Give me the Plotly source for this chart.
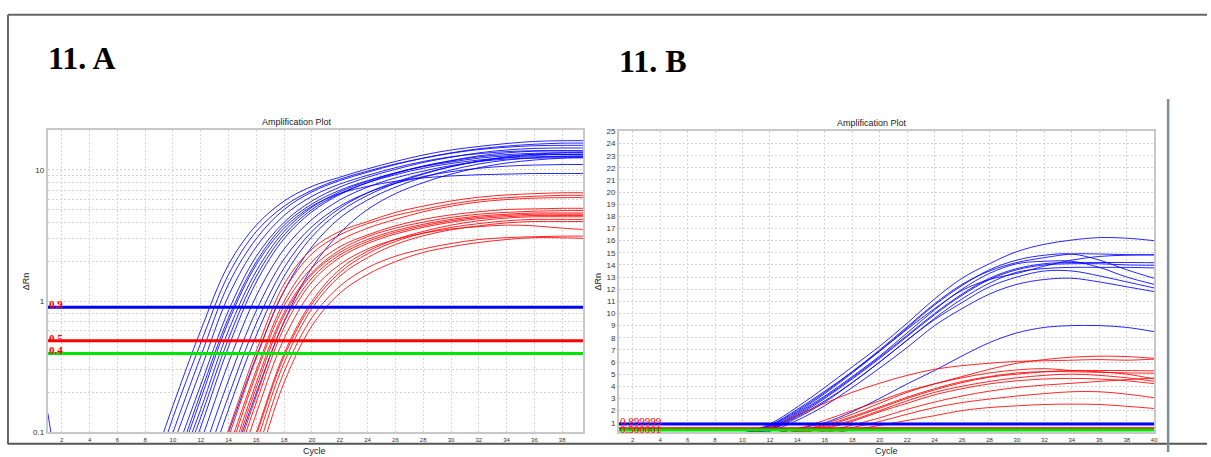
import math
import plotly.graph_objects as go

W, H = 1211, 457

# ---------------- Panel A (log scale) ----------------
CYCLES_A = [6, 8, 10, 12, 14, 16, 18, 20, 22, 24, 26, 28, 30, 32, 34, 36, 38, 40]

BLUE_A = [
    [0.012, 0.04, 0.16, 0.6, 1.9, 3.8, 5.8, 7.5, 8.8, 10.2, 11.6, 13.0, 14.2, 15.1, 15.9, 16.5, 16.7, 16.7],
    [0.009, 0.03, 0.13, 0.48, 1.6, 3.4, 5.3, 7.0, 8.5, 9.8, 11.1, 12.3, 13.4, 14.3, 14.9, 15.3, 15.4, 15.4],
    [0.007, 0.025, 0.1, 0.38, 1.35, 3.0, 5.0, 6.8, 8.3, 9.6, 11.0, 12.3, 13.5, 14.5, 15.2, 15.7, 16.0, 16.0],
    [0.006, 0.02, 0.08, 0.3, 1.1, 2.6, 4.5, 6.3, 7.8, 9.1, 10.4, 11.6, 12.6, 13.3, 13.8, 14.0, 14.0, 13.9],
    [0.0045, 0.015, 0.06, 0.23, 0.85, 2.2, 4.0, 5.8, 7.4, 8.8, 10.1, 11.4, 12.5, 13.5, 14.2, 14.6, 14.7, 14.7],
    [0.004, 0.013, 0.05, 0.2, 0.75, 2.0, 3.8, 5.5, 7.0, 8.3, 9.5, 10.6, 11.5, 12.3, 12.8, 13.1, 13.1, 13.0],
    [0.0035, 0.012, 0.045, 0.18, 0.7, 1.9, 3.6, 5.3, 6.6, 7.5, 8.2, 8.7, 9.0, 9.2, 9.3, 9.4, 9.4, 9.4],
    [0.003, 0.01, 0.04, 0.15, 0.6, 1.7, 3.4, 5.2, 6.8, 8.2, 9.5, 10.7, 11.7, 12.6, 13.1, 13.4, 13.5, 13.5],
    [0.0028, 0.009, 0.035, 0.13, 0.52, 1.55, 3.2, 5.0, 6.6, 8.0, 9.2, 10.3, 11.2, 11.9, 12.4, 12.6, 12.7, 12.7],
    [0.0025, 0.008, 0.03, 0.11, 0.45, 1.4, 3.0, 4.8, 6.5, 8.0, 9.4, 10.7, 11.8, 12.8, 13.5, 13.9, 14.0, 14.0],
    [0.002, 0.006, 0.023, 0.085, 0.34, 1.1, 2.5, 4.2, 5.9, 7.4, 8.7, 9.8, 10.8, 11.6, 12.1, 12.3, 12.4, 12.4],
    [0.0015, 0.0045, 0.017, 0.063, 0.25, 0.85, 2.1, 3.7, 5.3, 6.7, 7.9, 8.9, 9.7, 10.3, 10.7, 10.9, 11.0, 11.0],
    [0.001, 0.0035, 0.013, 0.048, 0.19, 0.68, 1.8, 3.4, 5.1, 6.7, 8.1, 9.4, 10.6, 11.6, 12.4, 12.9, 13.1, 13.1],
    [0.0008, 0.0027, 0.01, 0.037, 0.15, 0.55, 1.55, 3.1, 4.8, 6.4, 7.9, 9.3, 10.6, 11.7, 12.6, 13.2, 13.5, 13.5],
    [0.0006, 0.002, 0.007, 0.026, 0.1, 0.38, 1.2, 2.6, 4.3, 5.9, 7.4, 8.8, 10.0, 11.1, 11.9, 12.4, 12.7, 12.7],
    [0.0002, 0.0008, 0.003, 0.0125, 0.05, 0.2, 0.7, 1.8, 3.3, 5.0, 6.6, 8.0, 9.3, 10.4, 11.3, 11.9, 12.3, 12.4],
]

RED_A = [
    [0.0004, 0.0016, 0.0065, 0.027, 0.105, 0.42, 1.35, 2.5, 3.4, 4.05, 4.75, 5.3, 5.8, 6.2, 6.45, 6.6, 6.7, 6.7],
    [0.00035, 0.0014, 0.0055, 0.023, 0.092, 0.37, 1.2, 2.3, 3.2, 3.9, 4.5, 5.0, 5.5, 5.9, 6.15, 6.3, 6.4, 6.4],
    [0.0003, 0.0011, 0.0045, 0.018, 0.075, 0.3, 1.0, 2.0, 2.9, 3.6, 4.2, 4.8, 5.3, 5.7, 5.95, 6.1, 6.15, 6.15],
    [0.00028, 0.001, 0.004, 0.016, 0.067, 0.28, 0.92, 1.8, 2.6, 3.2, 3.75, 4.2, 4.55, 4.8, 5.0, 5.05, 5.1, 5.1],
    [0.00025, 0.0009, 0.0035, 0.014, 0.058, 0.24, 0.82, 1.65, 2.45, 3.1, 3.6, 4.0, 4.35, 4.6, 4.75, 4.85, 4.9, 4.9],
    [0.00023, 0.0008, 0.0033, 0.013, 0.053, 0.22, 0.78, 1.6, 2.35, 2.95, 3.45, 3.85, 4.2, 4.45, 4.6, 4.7, 4.7, 4.7],
    [0.0002, 0.0007, 0.0028, 0.011, 0.045, 0.19, 0.7, 1.5, 2.25, 2.85, 3.35, 3.75, 4.1, 4.35, 4.5, 4.6, 4.6, 4.6],
    [0.00017, 0.0006, 0.0024, 0.0095, 0.04, 0.17, 0.63, 1.4, 2.15, 2.75, 3.25, 3.65, 4.0, 4.25, 4.4, 4.5, 4.5, 4.5],
    [0.00014, 0.0005, 0.002, 0.008, 0.032, 0.14, 0.52, 1.2, 1.9, 2.5, 2.95, 3.3, 3.55, 3.7, 3.8, 3.75, 3.6, 3.5],
    [0.0001, 0.0004, 0.0015, 0.006, 0.024, 0.1, 0.4, 1.0, 1.75, 2.4, 2.95, 3.4, 3.8, 4.1, 4.3, 4.4, 4.4, 4.4],
    [0.0001, 0.00037, 0.0014, 0.0055, 0.022, 0.095, 0.38, 0.95, 1.65, 2.3, 2.85, 3.3, 3.65, 3.9, 4.1, 4.2, 4.2, 4.2],
    [0.00009, 0.00032, 0.0012, 0.0048, 0.019, 0.083, 0.34, 0.88, 1.55, 2.15, 2.7, 3.15, 3.5, 3.75, 3.95, 4.05, 4.05, 4.05],
    [0.00007, 0.00026, 0.001, 0.004, 0.016, 0.068, 0.29, 0.75, 1.3, 1.8, 2.2, 2.5, 2.75, 2.95, 3.05, 3.1, 3.13, 3.13],
    [0.00006, 0.00021, 0.0008, 0.0032, 0.013, 0.055, 0.24, 0.65, 1.15, 1.6, 2.0, 2.35, 2.6, 2.8, 2.95, 3.05, 3.04, 3.0],
]

NOISE_A_CYC = [1, 2]
NOISE_A_VAL = [0.14, 0.03]

THRESH_A = [0.9, 0.5, 0.4]
THRESH_A_LABELS = ["0.9", "0.5", "0.4"]
X_TICKS_A = list(range(2, 40, 2))
Y_GRID_A = [0.1, 0.2, 0.3, 0.4, 0.5, 0.6, 0.7, 0.8, 0.9, 1, 2, 3, 4, 5, 6, 7, 8, 9, 10, 20]
Y_LABELS_A = {0.1: "0.1", 1: "1", 10: "10"}

# ---------------- Panel B (linear scale) ----------------
CYCLES_B = [2, 4, 6, 8, 10, 12, 14, 16, 18, 20, 22, 24, 26, 28, 30, 32, 34, 36, 38, 40]

BLUE_B = [
    [0, 0, 0, 0, 0.15, 0.9, 2.3, 3.9, 5.6, 7.3, 9.2, 11.2, 12.9, 14.1, 15.1, 15.7, 16.05, 16.25, 16.2, 16.0],
    [0, 0, 0, 0, 0.12, 0.8, 2.1, 3.6, 5.2, 6.9, 8.7, 10.4, 11.9, 12.8, 13.3, 13.9, 14.4, 14.7, 14.8, 14.83],
    [0, 0, 0, 0, 0.1, 0.75, 2.0, 3.5, 5.2, 7.0, 8.9, 10.8, 12.4, 13.5, 14.2, 14.6, 14.9, 14.9, 14.85, 14.83],
    [0, 0, 0, 0, 0.05, 0.55, 1.7, 3.1, 4.7, 6.4, 8.2, 10.0, 11.6, 12.9, 13.7, 14.1, 14.2, 14.2, 14.2, 14.18],
    [0, 0, 0, 0, 0.05, 0.5, 1.6, 3.0, 4.6, 6.3, 8.1, 9.9, 11.5, 12.8, 13.6, 14.0, 14.1, 14.1, 14.0, 13.97],
    [0, 0, 0, 0, 0.02, 0.4, 1.4, 2.7, 4.3, 6.0, 7.8, 9.6, 11.2, 12.5, 13.4, 13.7, 13.8, 13.8, 13.8, 13.75],
    [0, 0, 0, 0, 0.08, 0.7, 1.9, 3.4, 5.1, 6.9, 8.8, 10.7, 12.3, 13.6, 14.4, 14.8, 14.9, 14.4, 13.6, 12.9],
    [0, 0, 0, 0, 0.05, 0.6, 1.8, 3.2, 4.8, 6.5, 8.4, 10.3, 12.0, 13.3, 14.1, 14.3, 14.3, 13.8, 13.0, 12.4],
    [0, 0, 0, 0, 0.02, 0.45, 1.5, 2.8, 4.3, 6.0, 7.8, 9.5, 10.9, 12.2, 13.0, 13.5, 13.5, 13.1, 12.6, 12.1],
    [0, 0, 0, 0, 0, 0.3, 1.2, 2.4, 3.9, 5.5, 7.2, 9.0, 10.4, 11.6, 12.4, 12.8, 12.9, 12.6, 12.2, 11.8],
    [0, 0, 0, 0, 0, 0.1, 0.5, 1.0, 1.9, 3.0, 4.2, 5.3, 6.5, 7.6, 8.4, 8.85, 9.0, 9.0, 8.85, 8.5],
]

RED_B = [
    [0, 0, 0, 0, 0.05, 0.6, 1.6, 2.6, 3.5, 4.25, 4.9, 5.4, 5.7, 5.9, 6.05, 6.1, 6.15, 6.2, 6.15, 6.24],
    [0, 0, 0, 0, 0, 0.05, 0.3, 0.9, 1.7, 2.6, 3.5, 4.2, 4.8, 5.4, 5.9, 6.2, 6.4, 6.48, 6.45, 6.3],
    [0, 0, 0, 0, 0, 0.1, 0.5, 1.2, 2.0, 2.8, 3.6, 4.2, 4.7, 5.1, 5.35, 5.45, 5.3, 5.2, 5.0, 4.6],
    [0, 0, 0, 0, 0, 0.05, 0.3, 0.8, 1.5, 2.3, 3.1, 3.8, 4.4, 4.8, 5.1, 5.2, 5.2, 5.15, 5.1, 5.08],
    [0, 0, 0, 0, 0, 0.04, 0.25, 0.7, 1.4, 2.2, 3.0, 3.7, 4.3, 4.75, 5.0, 5.2, 5.3, 5.3, 5.3, 5.27],
    [0, 0, 0, 0, 0, 0.03, 0.2, 0.6, 1.2, 2.0, 2.8, 3.5, 4.0, 4.4, 4.7, 4.9, 5.0, 4.9, 4.7, 4.41],
    [0, 0, 0, 0, 0, 0.02, 0.15, 0.5, 1.1, 1.9, 2.6, 3.3, 3.8, 4.2, 4.45, 4.6, 4.65, 4.6, 4.45, 4.22],
    [0, 0, 0, 0, 0, 0, 0.1, 0.3, 0.8, 1.4, 2.1, 2.7, 3.2, 3.6, 3.9, 4.1, 4.25, 4.4, 4.55, 4.68],
    [0, 0, 0, 0, 0, 0, 0.05, 0.2, 0.6, 1.1, 1.7, 2.25, 2.66, 2.95, 3.2, 3.4, 3.55, 3.55, 3.35, 3.06],
    [0, 0, 0, 0, 0, 0, 0.03, 0.1, 0.4, 0.78, 1.18, 1.58, 2.0, 2.25, 2.39, 2.5, 2.53, 2.5, 2.35, 2.17],
]

THRESH_B = [0.899999, 0.500001, 0.4]
THRESH_B_LABELS = ["0.899999", "0.500001", None]
X_TICKS_B = list(range(2, 41, 2))
Y_TICKS_B = list(range(1, 26))

THRESH_COLORS = ["#0000ff", "#ff0000", "#00e600"]
BLUE = "rgba(0,0,255,0.85)"
RED = "rgba(255,0,0,0.85)"


def px(x):
    return x / W


def py(y):
    return 1 - y / H


fig = go.Figure()

# Panel A curves
for vals in BLUE_A:
    fig.add_trace(go.Scatter(x=CYCLES_A, y=vals, mode="lines", line=dict(color=BLUE, width=1, shape="spline"),
                             xaxis="x", yaxis="y", hoverinfo="skip"))
fig.add_trace(go.Scatter(x=NOISE_A_CYC, y=NOISE_A_VAL, mode="lines", line=dict(color=BLUE, width=1),
                         xaxis="x", yaxis="y", hoverinfo="skip"))
for vals in RED_A:
    fig.add_trace(go.Scatter(x=CYCLES_A, y=vals, mode="lines", line=dict(color=RED, width=1, shape="spline"),
                             xaxis="x", yaxis="y", hoverinfo="skip"))
for t, c in zip(THRESH_A, THRESH_COLORS):
    fig.add_trace(go.Scatter(x=[1, 39.5], y=[t, t], mode="lines", line=dict(color=c, width=3),
                             xaxis="x", yaxis="y", hoverinfo="skip"))

# Panel B curves
for vals in BLUE_B:
    fig.add_trace(go.Scatter(x=CYCLES_B, y=vals, mode="lines", line=dict(color=BLUE, width=1, shape="spline"),
                             xaxis="x2", yaxis="y2", hoverinfo="skip"))
for vals in RED_B:
    fig.add_trace(go.Scatter(x=CYCLES_B, y=vals, mode="lines", line=dict(color=RED, width=1, shape="spline"),
                             xaxis="x2", yaxis="y2", hoverinfo="skip"))
for t, c in zip([THRESH_B[1], THRESH_B[2], THRESH_B[0]], [THRESH_COLORS[1], THRESH_COLORS[2], THRESH_COLORS[0]]):
    fig.add_trace(go.Scatter(x=[1, 40], y=[t, t], mode="lines", line=dict(color=c, width=3),
                             xaxis="x2", yaxis="y2", hoverinfo="skip"))

grid = dict(showgrid=True, gridcolor="#d4d4d4", griddash="2px,2px", gridwidth=1,
            showline=True, linecolor="#c8c8c8", linewidth=2, mirror=True, zeroline=False,
            ticks="", tickfont=dict(family="Liberation Sans, Arial", size=7, color="#333333"))

axA_x = dict(grid, domain=[px(48), px(585)], range=[1, 39.5], tickmode="array", tickvals=X_TICKS_A,
             ticktext=[str(v) for v in X_TICKS_A], anchor="y")
axA_x["tickfont"] = dict(family="Liberation Sans, Arial", size=6, color="#333333")
axA_y = dict(grid, type="log", domain=[py(437), py(129)], range=[-1, 1.301], tickmode="array",
             tickvals=Y_GRID_A, ticktext=[Y_LABELS_A.get(v, "") for v in Y_GRID_A], anchor="x")
axA_y["tickfont"] = dict(family="Liberation Sans, Arial", size=8, color="#333333")

axB_x = dict(grid, domain=[px(621), px(1158)], range=[1, 40], tickmode="array", tickvals=X_TICKS_B,
             ticktext=[str(v) for v in X_TICKS_B], anchor="y2")
axB_x["tickfont"] = dict(family="Liberation Sans, Arial", size=6, color="#333333")
axB_y = dict(grid, domain=[py(437), py(130)], range=[0.2, 25], tickmode="array", tickvals=Y_TICKS_B,
             ticktext=[str(v) for v in Y_TICKS_B], anchor="x2")
axB_y["tickfont"] = dict(family="Liberation Sans, Arial", size=8, color="#333333")

fig.update_layout(
    width=W, height=H, autosize=False, margin=dict(l=0, r=0, t=0, b=0),
    paper_bgcolor="white", plot_bgcolor="white", showlegend=False,
    xaxis=axA_x, yaxis=axA_y, xaxis2=axB_x, yaxis2=axB_y,
)

ann = []
small = dict(family="Liberation Sans, Arial", size=9, color="#222222")
# Headers
ann.append(dict(text="<b>11. A</b>", x=px(46), y=py(55), xref="paper", yref="paper", xanchor="left",
                yanchor="middle", showarrow=False, font=dict(family="Liberation Serif, Times New Roman", size=32, color="black")))
ann.append(dict(text="<b>11. B</b>", x=px(619), y=py(58), xref="paper", yref="paper", xanchor="left",
                yanchor="middle", showarrow=False, font=dict(family="Liberation Serif, Times New Roman", size=32, color="black")))
# Plot titles
for cx, cy in [(298, 120), (875, 121)]:
    ann.append(dict(text="Amplification Plot", x=px(cx), y=py(cy), xref="paper", yref="paper",
                    xanchor="center", yanchor="middle", showarrow=False, font=small))
# Axis titles
for cx in [316, 889]:
    ann.append(dict(text="Cycle", x=px(cx), y=py(456), xref="paper", yref="paper",
                    xanchor="center", yanchor="middle", showarrow=False, font=small))
for cx in [27, 600]:
    ann.append(dict(text="ΔRn", x=px(cx), y=py(283), xref="paper", yref="paper", textangle=-90,
                    xanchor="center", yanchor="middle", showarrow=False, font=small))
# Threshold labels (log axis annotations use log10 positions)
for t, lab in zip(THRESH_A, THRESH_A_LABELS):
    ann.append(dict(text="<b>" + lab + "</b>", x=1, y=math.log10(t), xref="x", yref="y", xanchor="left",
                    yanchor="bottom", yshift=-5, xshift=-1, showarrow=False,
                    font=dict(family="Liberation Serif, Times New Roman", size=11, color="#ff0000")))
for t, lab, ys in zip(THRESH_B, THRESH_B_LABELS, [-5, -8, 0]):
    if lab is None:
        continue
    ann.append(dict(text=lab, x=1, y=t, xref="x2", yref="y2", xanchor="left", yanchor="bottom",
                    yshift=ys, xshift=-1, showarrow=False,
                    font=dict(family="Liberation Serif, Times New Roman", size=11, color="#ff0000")))

shapes = [
    dict(type="line", xref="paper", yref="paper", x0=px(8), x1=1, y0=py(11), y1=py(11),
         line=dict(color="#666666", width=2)),
    dict(type="line", xref="paper", yref="paper", x0=px(8), x1=px(8), y0=py(11), y1=py(449),
         line=dict(color="#666666", width=2)),
    dict(type="line", xref="paper", yref="paper", x0=px(8), x1=1, y0=py(448.5), y1=py(448.5),
         line=dict(color="#555555", width=2)),
    dict(type="line", xref="paper", yref="paper", x0=px(1172), x1=px(1172), y0=py(97), y1=0,
         line=dict(color="#7d8d9c", width=2.5)),
]

fig.update_layout(annotations=ann, shapes=shapes)
fig.write_html("out.html")
